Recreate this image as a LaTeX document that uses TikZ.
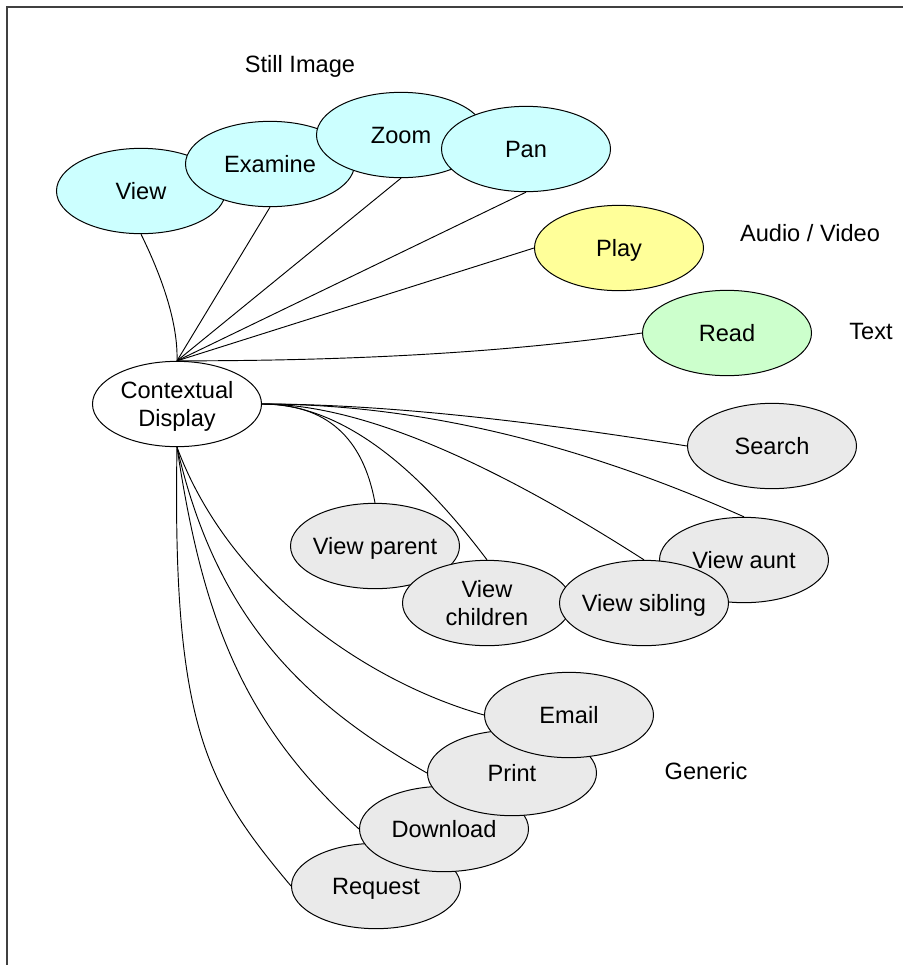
\documentclass[tikz,border=0pt]{standalone}
\usepackage{fontspec}
\setmainfont{Liberation Sans}
\usetikzlibrary{shapes.geometric,backgrounds}
\definecolor{cyanfill}{HTML}{CCFFFF}
\definecolor{yellowfill}{HTML}{FFFF99}
\definecolor{greenfill}{HTML}{CCFFCC}
\definecolor{grayfill}{HTML}{EAEAEA}
\newcommand{\ztxt}[1]{\makebox[0pt]{\raisebox{-2.1pt}[\height][\depth]{\begin{tabular}{@{}c@{}}#1\end{tabular}}}}
\tikzset{
  ell/.style={ellipse, draw=black, line width=0.75pt, inner sep=0pt,
    minimum width=126.75pt, minimum height=64pt,
    font=\fontsize{17.7}{21}\selectfont},
  cyanell/.style={ell, fill=cyanfill},
  yellowell/.style={ell, fill=yellowfill},
  greenell/.style={ell, fill=greenfill},
  grayell/.style={ell, fill=grayfill},
  whiteell/.style={ell, fill=white},
  conn/.style={draw=black, line width=0.7pt},
  grouplabel/.style={anchor=base, inner sep=0pt, font=\fontsize{17.7}{21}\selectfont},
  frameline/.style={draw=black!75, line width=0.9pt}
}
\begin{document}
\begin{tikzpicture}[x=0.75pt,y=-0.75pt]
\useasboundingbox (0,0) rectangle (903,965);
\coordinate (fbl) at (7,965);
\coordinate (ftl) at (7,7);
\coordinate (ftr) at (903,7);
\draw[frameline] (fbl) -- (ftl) -- (ftr);

\node[cyanell] (view) at (141,191) {\ztxt{View}};
\node[cyanell] (examine) at (270,164) {\ztxt{Examine}};
\node[cyanell] (zoom) at (401,135) {\ztxt{Zoom}};
\node[cyanell] (pan) at (526,149) {\ztxt{Pan}};
\node[yellowell] (play) at (619,248) {\ztxt{Play}};
\node[greenell] (read) at (727,333) {\ztxt{Read}};
\node[whiteell] (cd) at (177,404) {\ztxt{Contextual\\Display}};
\node[grayell] (search) at (772,446) {\ztxt{Search}};
\node[grayell] (parent) at (375,546) {\ztxt{View parent}};
\node[grayell] (children) at (487,603) {\ztxt{View\\children}};
\node[grayell] (aunt) at (744,560) {\ztxt{View aunt}};
\node[grayell] (sibling) at (644,603) {\ztxt{View sibling}};
\node[grayell] (request) at (376,886) {\ztxt{Request}};
\node[grayell] (download) at (444,829) {\ztxt{Download}};
\node[grayell] (print) at (512,773) {\ztxt{Print}};
\node[grayell] (email) at (569,715) {\ztxt{Email}};

\node[grouplabel] (lstill) at (300,72) {Still Image};
\node[grouplabel] (laudio) at (810,241.5) {Audio / Video};
\node[grouplabel] (ltext) at (871,339) {Text};
\node[grouplabel] (lgeneric) at (706,779) {Generic};

\begin{scope}[on background layer]
\draw[conn] (cd.north) .. controls (178,328) and (166,285) .. (view.south);
\draw[conn] (cd.north) -- (examine.south);
\draw[conn] (cd.north) -- (zoom.south);
\draw[conn] (cd.north) -- (pan.south);
\draw[conn] (cd.north) -- (play.west);
\draw[conn] (cd.north) .. controls (357,361) and (511,352) .. (read.west);

\draw[conn] (cd.east) .. controls (372,404) and (513,418) .. (search.west);
\draw[conn] (cd.east) .. controls (416,404) and (576,442) .. (aunt.north);
\draw[conn] (cd.east) .. controls (356,404) and (482,456) .. (sibling.north);
\draw[conn] (cd.east) .. controls (334,404) and (409,456) .. (children.north);
\draw[conn] (cd.east) .. controls (326,404) and (363,437) .. (parent.north);

\draw[conn] (cd.south) .. controls (172,729) and (208,787) .. (request.west);
\draw[conn] (cd.south) .. controls (203,622) and (245,726) .. (download.west);
\draw[conn] (cd.south) .. controls (215,613) and (298,700) .. (print.west);
\draw[conn] (cd.south) .. controls (230,590) and (370,683) .. (email.west);
\end{scope}
\end{tikzpicture}
\end{document}
